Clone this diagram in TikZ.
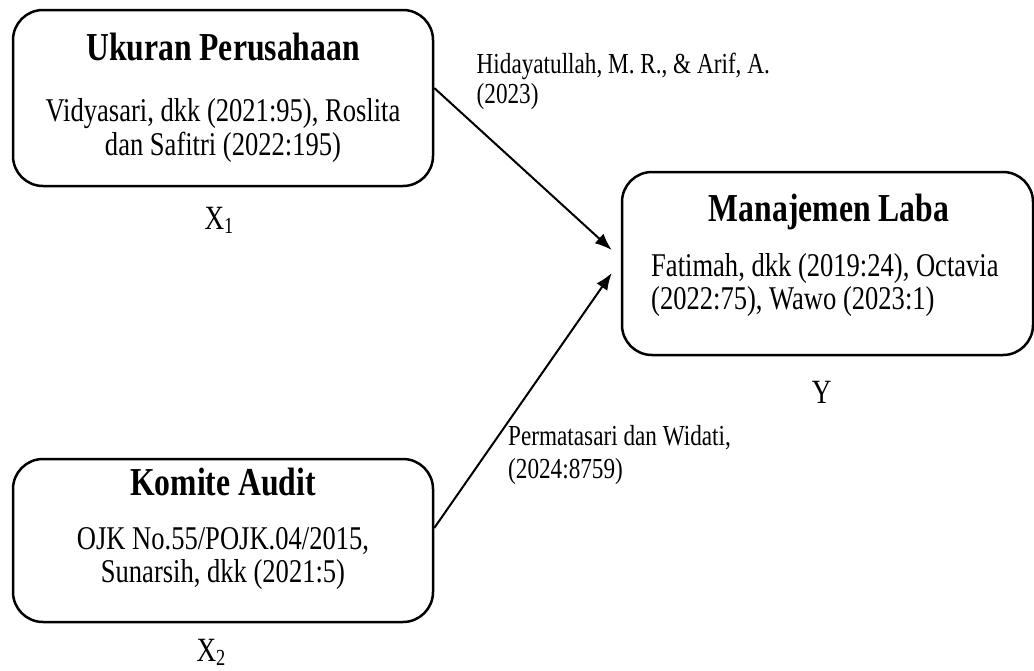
\documentclass[tikz,border=0pt]{standalone}
\usepackage{fontspec}
\setmainfont{Liberation Serif}[FakeStretch=0.8]
\usetikzlibrary{arrows.meta}
\newcommand\fhead{\fontsize{39.6}{39.6}\selectfont\bfseries}
\newcommand\fbody{\fontsize{33.2}{33.2}\selectfont}
\newcommand\flab{\fontsize{29}{29}\selectfont}
\newcommand\fvar{\fontsize{34}{34}\selectfont}
\newcommand\mysub[1]{\raisebox{-0.12em}{\fontsize{23}{23}\selectfont #1}}
\tikzset{
  boxnode/.style={draw, line width=2.5pt, rounded corners=30pt, inner sep=0pt},
  txt/.style={inner sep=0pt, anchor=base},
  txtl/.style={inner sep=0pt, anchor=base west},
  arr/.style={line width=2pt, -{Latex[length=17pt,width=13pt]}}
}
\begin{document}
\begin{tikzpicture}[x=1pt,y=-1pt]
\useasboundingbox (0,0) rectangle (1034,670);
% boxes
\node[boxnode, minimum width=420pt, minimum height=176pt] (b1) at (223,98) {};
\node[boxnode, minimum width=411pt, minimum height=183pt] (bY) at (827.5,263.5) {};
\node[boxnode, minimum width=420pt, minimum height=163pt] (b2) at (223,540.5) {};
% box 1 texts
\node[txt] (h1) at (223,60.5) {\fhead Ukuran Perusahaan};
\node[txt] (b1a) at (223,121.7) {\fbody Vidyasari, dkk (2021:95), Roslita};
\node[txt] (b1b) at (223,155) {\fbody dan Safitri (2022:195)};
\node[txt] (x1) at (219,229) {\fvar X\mysub{1}};
% box Y texts
\node[txt] (hY) at (829,221.7) {\fhead Manajemen Laba};
\node[txtl] (bYa) at (651,276) {\fbody Fatimah, dkk (2019:24), Octavia};
\node[txtl] (bYb) at (651,309) {\fbody (2022:75), Wawo (2023:1)};
\node[txt] (yl) at (821.7,403) {\fvar Y};
% box 2 texts
\node[txt] (h2) at (223,495) {\fhead Komite Audit};
\node[txt] (b2a) at (223,549) {\fbody OJK No.55/POJK.04/2015,};
\node[txt] (b2b) at (223,582.7) {\fbody Sunarsih, dkk (2021:5)};
\node[txt] (x2) at (211,661) {\fvar X\mysub{2}};
% arrow labels
\node[txtl] (l1a) at (476.5,73.3) {\flab Hidayatullah, M. R., \& Arif, A.};
\node[txtl] (l1b) at (476.5,103.3) {\flab (2023)};
\node[txtl] (l2a) at (508,445) {\flab Permatasari dan Widati,};
\node[txtl] (l2b) at (508,478) {\flab (2024:8759)};
% arrows
\coordinate (t1) at ([xshift=-9pt,yshift=13.5pt]bY.west);
\coordinate (t2) at ([xshift=-9pt,yshift=-9.5pt]bY.west);
\draw[arr] ([yshift=10pt]b1.east) -- (t1);
\draw[arr] ([yshift=12.5pt]b2.east) -- (t2);
\end{tikzpicture}
\end{document}
